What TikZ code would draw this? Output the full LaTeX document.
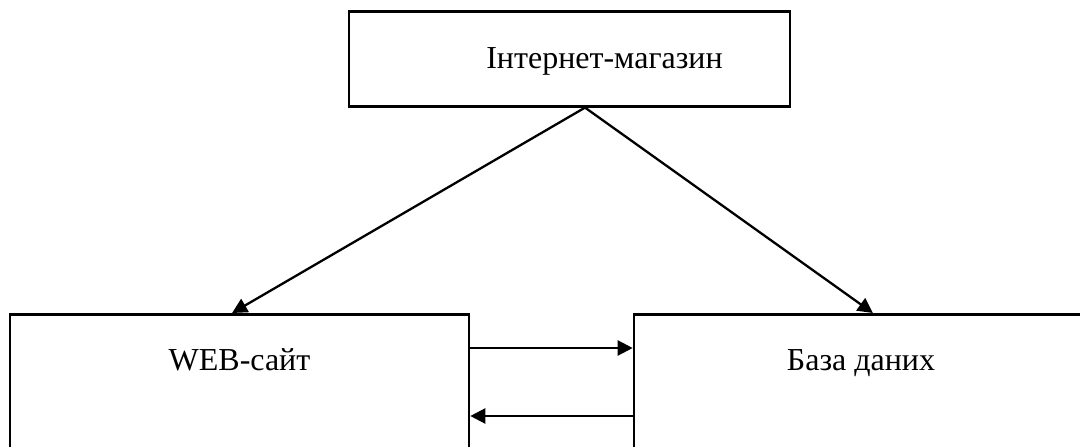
\documentclass[tikz,border=0pt]{standalone}
\usepackage{fontspec}
\setmainfont{Liberation Serif}
\usetikzlibrary{arrows.meta,calc}
\begin{document}
\begin{tikzpicture}[x=1pt,y=-1pt,
  box/.style={draw, line width=2.6pt, rectangle, inner sep=0pt, font=\fontsize{32}{38}\selectfont},
  conn/.style={line width=2.3pt, -{Triangle[length=15pt,width=15pt]}}]
\useasboundingbox (0,0) rectangle (1080,447);
\node[box, anchor=north, minimum width=441pt, text height=57pt, text depth=38pt] (shop) at (569.5,10) {\hspace*{70pt}Інтернет-магазин};
\node[box, anchor=north, minimum width=459pt, text height=56pt, text depth=160pt] (web) at (239.5,313) {WEB-сайт};
\node[box, anchor=north, minimum width=454pt, text height=56pt, text depth=160pt] (db) at (861,313) {База даних};
\coordinate (o) at ($(shop.south west)!0.535!(shop.south east)$);
\draw[conn] (o) -- ($(web.north west)!0.484!(web.north east)$);
\draw[conn] (o) -- ($(db.north west)!0.526!(db.north east)$);
\draw[conn] ([yshift=-35pt]web.north east) -- ([yshift=-35pt]db.north west);
\draw[conn] ([yshift=-103pt]db.north west) -- ([yshift=-103pt]web.north east);
\end{tikzpicture}
\end{document}
